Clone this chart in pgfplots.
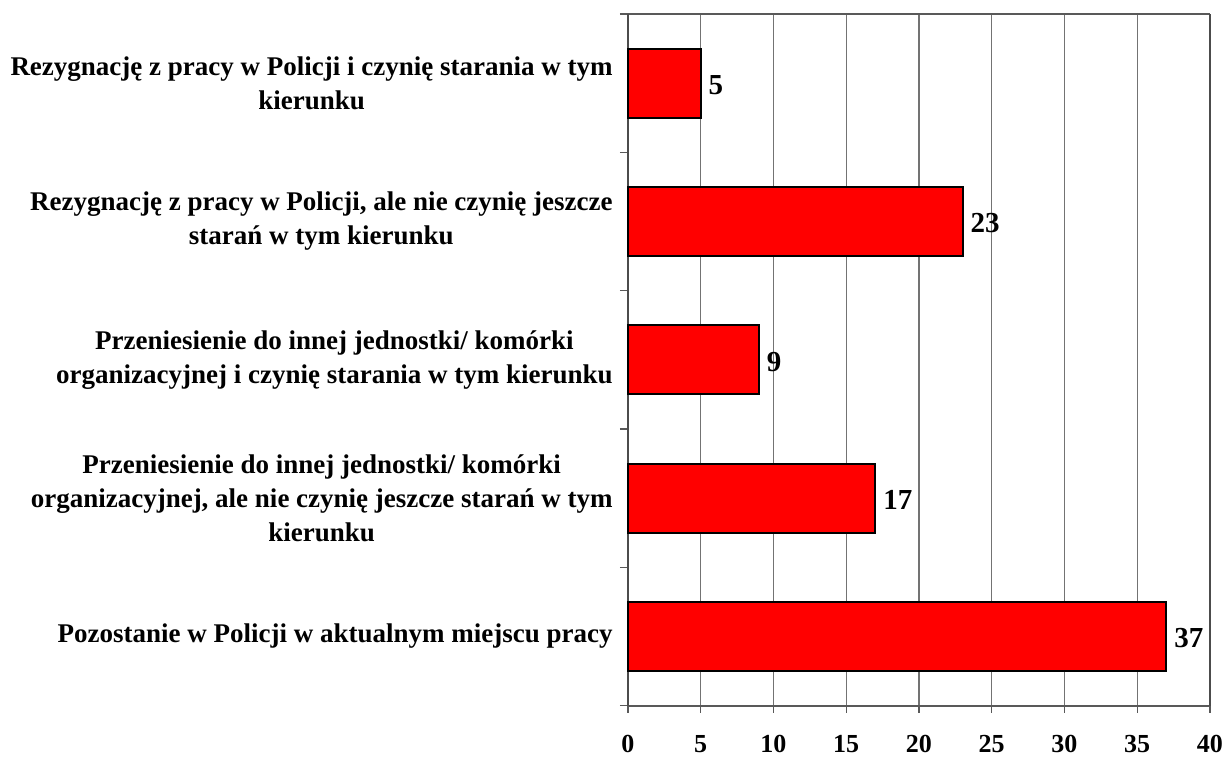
\documentclass[border=0pt]{standalone}
\usepackage{fontspec}
\setmainfont{Liberation Serif}
\usepackage{pgfplots}
\pgfplotsset{compat=1.18}
\begin{document}
\begin{tikzpicture}
\begin{axis}[
  name=ax,
  scale only axis,
  width=291pt, height=345.85pt,
  xbar, bar width=0.5,
  xmin=0, xmax=40,
  ymin=-0.5, ymax=4.5,
  xtick={0,5,...,40},
  ytick={0,1,2,3,4},
  minor ytick={-0.5,0.5,1.5,2.5,3.5,4.5},
  yticklabels={
    {Pozostanie w Policji w aktualnym miejscu pracy},
    {Przeniesienie do innej jednostki/ komórki\\organizacyjnej, ale nie czynię jeszcze starań w tym\\kierunku},
    {Przeniesienie do innej jednostki/ komórki\\organizacyjnej i czynię starania w tym kierunku},
    {Rezygnację z pracy w Policji, ale nie czynię jeszcze\\starań w tym kierunku},
    {Rezygnację z pracy w Policji i czynię starania w tym\\kierunku}
  },
  tick align=outside,
  xtick pos=lower, ytick pos=left,
  major tick length=3.5pt,
  y tick style={draw=none},
  minor y tick style={draw=black!65, line width=0.7pt},
  minor tick length=4pt,
  x tick style={black!65, line width=0.7pt},
  xmajorgrids,
  grid style={black!55, line width=0.55pt},
  separate axis lines,
  axis line style={black!50, line width=0.8pt},
  every outer y axis line/.append style={black!70, line width=0.9pt},
  every outer x axis line/.append style={black!65, line width=0.8pt},
  /pgf/number format/assume math mode=true,
  xticklabel style={font=\bfseries\fontsize{13}{15}\selectfont, anchor=base, yshift=-20pt, inner sep=0pt},
  yticklabel style={font=\bfseries\fontsize{13.5}{17}\selectfont, align=center, anchor=east, inner sep=0pt, xshift=-4pt},
  nodes near coords,
  every node near coord/.append style={font=\bfseries\fontsize{14.5}{16}\selectfont, anchor=west, inner sep=0pt, xshift=3.5pt, yshift=-1pt, black},
  clip=false,
]
\addplot[fill=red, draw=black, line width=1pt] coordinates {
  (37,0) (17,1) (9,2) (23,3) (5,4)
};
\end{axis}
\pgfresetboundingbox
\path ([shift={(-314pt,-25.15pt)}]ax.south west) rectangle ([shift={(8.5pt,7pt)}]ax.north east);
\end{tikzpicture}
\end{document}
